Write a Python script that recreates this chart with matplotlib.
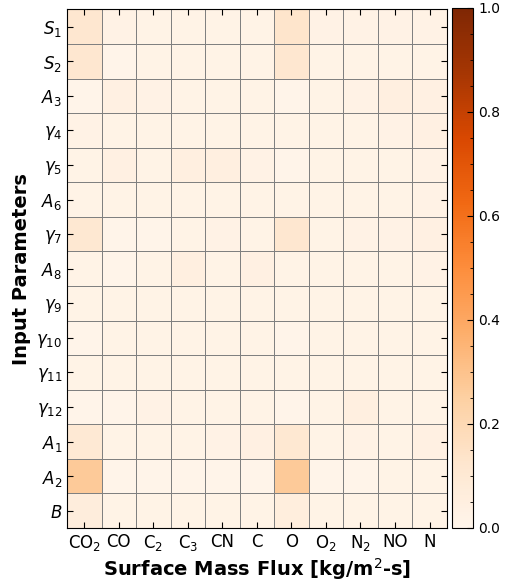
import matplotlib.pyplot as plt
import numpy as np
from matplotlib.ticker import MultipleLocator

# sensitivity of each species' surface mass flux to the input parameters
params = [r'$S_1$', r'$S_2$', r'$A_3$', r'$\gamma_4$', r'$\gamma_5$', r'$A_6$',
          r'$\gamma_7$', r'$A_8$', r'$\gamma_9$', r'$\gamma_{10}$', r'$\gamma_{11}$',
          r'$\gamma_{12}$', r'$A_1$', r'$A_2$', r'$B$']
species = ['CO$_2$', 'CO', 'C$_2$', 'C$_3$', 'CN', 'C', 'O', 'O$_2$', 'N$_2$', 'NO', 'N']

S1 = [0.12, 0.03, 0.02, 0.02, 0.02, 0.02, 0.13, 0.03, 0.03, 0.03, 0.03]
S2 = [0.12, 0.01, 0.02, 0.02, 0.02, 0.02, 0.12, 0.02, 0.02, 0.02, 0.02]
A3 = [0.01, 0.04, 0.03, 0.02, 0.02, 0.02, 0.01, 0.02, 0.03, 0.05, 0.04]
g4 = [0.03, 0.02, 0.02, 0.02, 0.02, 0.02, 0.02, 0.02, 0.02, 0.03, 0.04]
g5 = [0.02, 0.04, 0.02, 0.05, 0.05, 0.03, 0.01, 0.02, 0.02, 0.02, 0.03]
A6 = [0.02, 0.02, 0.02, 0.02, 0.02, 0.02, 0.02, 0.02, 0.02, 0.02, 0.03]
g7 = [0.11, 0.01, 0.01, 0.02, 0.03, 0.02, 0.12, 0.02, 0.03, 0.03, 0.04]
A8 = [0.02, 0.01, 0.02, 0.05, 0.02, 0.04, 0.02, 0.02, 0.02, 0.02, 0.03]
g9 = [0.02, 0.02, 0.02, 0.02, 0.02, 0.02, 0.02, 0.02, 0.02, 0.02, 0.02]
g10 = [0.01, 0.02, 0.02, 0.02, 0.02, 0.02, 0.01, 0.02, 0.02, 0.02, 0.02]
g11 = [0.02, 0.02, 0.02, 0.02, 0.02, 0.02, 0.02, 0.02, 0.02, 0.02, 0.02]
g12 = [0.01, 0.01, 0.03, 0.02, 0.02, 0.02, 0.01, 0.02, 0.05, 0.02, 0.02]
A1 = [0.10, 0.02, 0.02, 0.02, 0.03, 0.04, 0.11, 0.02, 0.03, 0.02, 0.04]
A2 = [0.27, 0.01, 0.01, 0.01, 0.01, 0.01, 0.27, 0.01, 0.01, 0.02, 0.02]
B = [0.07, 0.02, 0.02, 0.02, 0.02, 0.02, 0.06, 0.02, 0.02, 0.02, 0.02]

sens = np.array([S1, S2, A3, g4, g5, A6, g7, A8, g9, g10, g11, g12, A1, A2, B])

fig = plt.figure(figsize=(5.1, 5.82), dpi=100)
ax = fig.add_axes([0.1315, 0.0928, 0.7445, 0.891])
cax = fig.add_axes([0.886, 0.0928, 0.042, 0.894])

mesh = ax.pcolormesh(sens, cmap='Oranges', vmin=0, vmax=1,
                     edgecolors='#808080', linewidth=0.7)
ax.set_xlim(0, len(species))
ax.set_ylim(len(params), 0)
ax.set_xticks(np.arange(len(species)) + 0.5)
ax.set_xticklabels(species, fontsize=12)
ax.set_yticks(np.arange(len(params)) + 0.5)
ax.set_yticklabels(params, fontsize=12)
ax.tick_params(direction='in', top=True, right=True, length=4)
ax.set_xlabel('Surface Mass Flux [kg/m$^2$-s]', fontsize=14, fontweight='bold', labelpad=2)
ax.set_ylabel('Input Parameters', fontsize=14, fontweight='bold')

cb = fig.colorbar(mesh, cax=cax)
cb.set_ticks([0.0, 0.2, 0.4, 0.6, 0.8, 1.0])
cb.ax.yaxis.set_minor_locator(MultipleLocator(0.05))
cb.ax.tick_params(which='both', direction='in', labelsize=10)
cb.ax.tick_params(which='major', length=4)
cb.ax.tick_params(which='minor', length=2)

fig.savefig('out.png', dpi=100)
